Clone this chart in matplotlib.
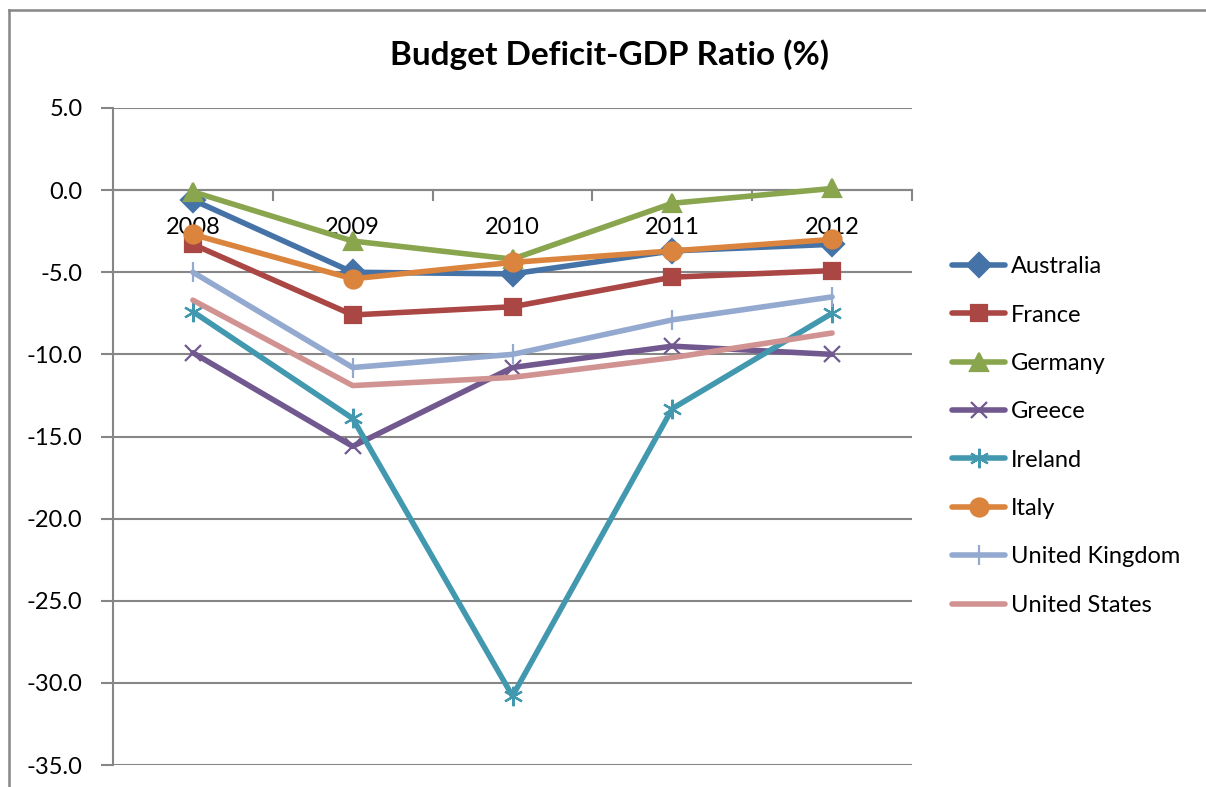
import numpy as np
import matplotlib
matplotlib.use("Agg")
import matplotlib.pyplot as plt
from matplotlib.lines import Line2D

plt.rcParams['font.family'] = ['Lato', 'DejaVu Sans']

years = ['2008', '2009', '2010', '2011', '2012']
australia = [-0.6, -5.0, -5.1, -3.7, -3.3]
france = [-3.3, -7.6, -7.1, -5.3, -4.9]
germany = [-0.1, -3.1, -4.2, -0.8, 0.1]
greece = [-9.9, -15.6, -10.8, -9.5, -10.0]
ireland = [-7.4, -13.9, -30.8, -13.3, -7.5]
italy = [-2.7, -5.4, -4.4, -3.7, -3.0]
uk = [-5.0, -10.8, -10.0, -7.9, -6.5]
us = [-6.7, -11.9, -11.4, -10.2, -8.7]

series = [
    ('Australia', australia, '#4572A7', 'D', 12),
    ('France', france, '#AA4643', 's', 12),
    ('Germany', germany, '#89A54E', '^', 13),
    ('Greece', greece, '#71588F', 'x', 12),
    ('Ireland', ireland, '#4198AF', (6, 2, 0), 14),
    ('Italy', italy, '#DB843D', 'o', 13),
    ('United Kingdom', uk, '#93A9CF', '|', 14),
    ('United States', us, '#D19392', None, 0),
]

W, H = 1206, 787
fig = plt.figure(figsize=(W / 100, H / 100), dpi=100)
ax = fig.add_axes([113 / W, 1 - 765 / H, (912 - 113) / W, (765 - 108) / H])

grey = '#868686'

# spine position first, it resets the ticks
for s in ['top', 'right']:
    ax.spines[s].set_visible(False)
ax.spines['bottom'].set_position(('data', 0))
ax.spines['bottom'].set_color(grey)
ax.spines['bottom'].set_linewidth(1.5)
ax.spines['left'].set_color(grey)
ax.spines['left'].set_linewidth(1.5)

x = np.arange(len(years))
for name, vals, col, mk, ms in series:
    ax.plot(x, vals, color=col, lw=4, marker=mk, markersize=ms,
            markeredgewidth=1.6, label=name, solid_capstyle='round', zorder=3)

ax.set_xlim(-0.5, 4.5)
ax.set_ylim(-35, 5)
ax.set_yticks(np.arange(-35, 5.1, 5))
ax.set_yticklabels(['%.1f' % v for v in np.arange(-35, 5.1, 5)])
ax.yaxis.grid(True, color=grey, lw=1.5)
ax.set_axisbelow(True)

ax.set_xticks(x)
ax.set_xticklabels(years)
ax.set_xticks(np.arange(-0.5, 4.6, 1), minor=True)
ax.tick_params(axis='x', which='major', length=0, pad=19, labelsize=17)
ax.tick_params(axis='x', which='minor', length=8, width=1.5, color=grey, direction='out')
ax.tick_params(axis='y', length=9, width=1.5, color=grey, pad=13, labelsize=17)

fig.text(610 / W, 1 - 55 / H, 'Budget Deficit-GDP Ratio (%)', ha='center', va='center',
         fontsize=24, fontweight='bold')

fig.legend(loc='center left', bbox_to_anchor=(952 / W, 1 - 436 / H), frameon=False,
           fontsize=17, handlelength=2.25, handletextpad=0.25, labelspacing=1.16,
           borderpad=0, borderaxespad=0)

fig.add_artist(Line2D([9 / W, 9 / W], [0, 1 - 10 / H], color=grey, lw=1.8, transform=fig.transFigure))
fig.add_artist(Line2D([9 / W, 1], [1 - 10 / H, 1 - 10 / H], color=grey, lw=1.8, transform=fig.transFigure))

fig.savefig('out.png', dpi=100)
